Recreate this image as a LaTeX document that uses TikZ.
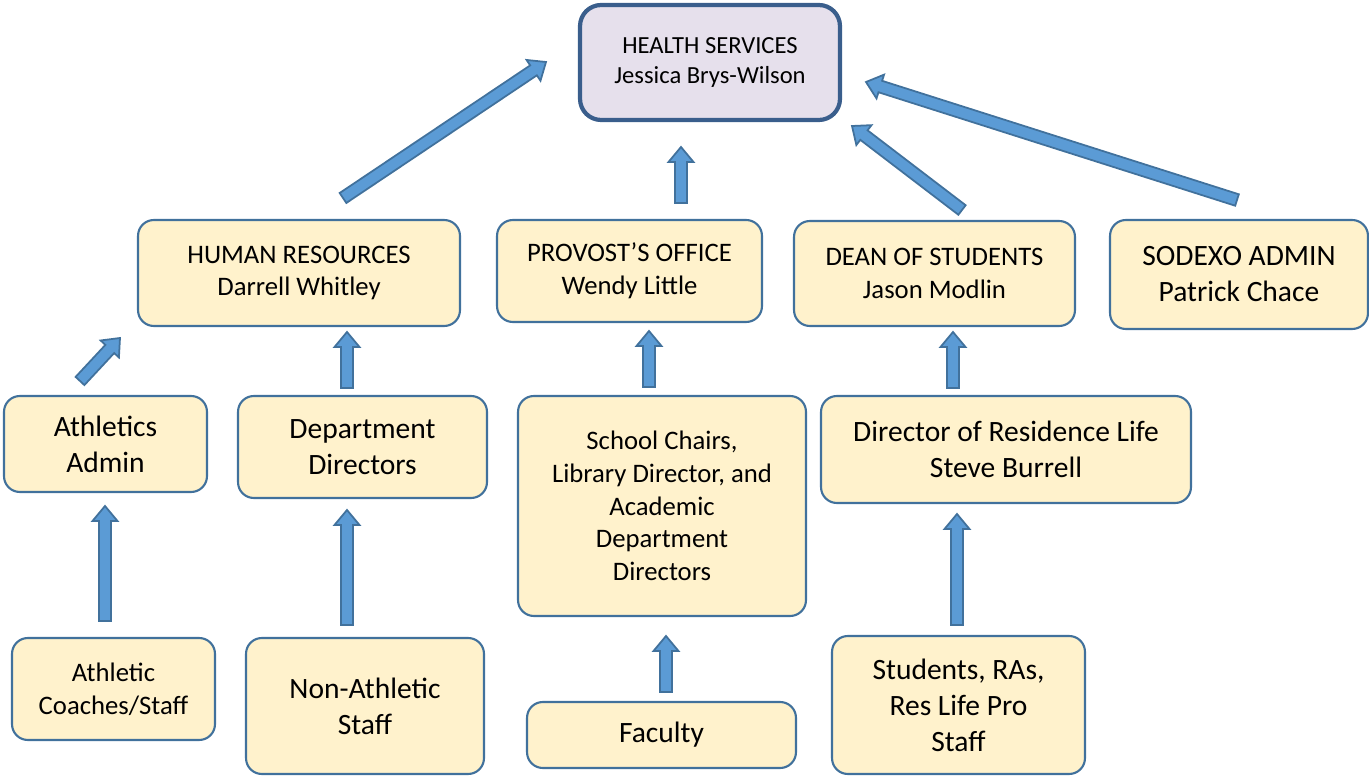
\documentclass[tikz,border=0pt]{standalone}
\usepackage{fontspec}
\setmainfont{Carlito}
\usetikzlibrary{calc}
\definecolor{boxfill}{HTML}{FFF2CC}
\definecolor{boxline}{HTML}{41719C}
\definecolor{topfill}{HTML}{E6E0EC}
\definecolor{topline}{HTML}{3A5E8C}
\definecolor{arrfill}{HTML}{5B9BD5}
\definecolor{arrline}{HTML}{41719C}
\newcommand\toptxt{\fontsize{14}{17.6}\selectfont}
\newcommand\smalltxt{\fontsize{15.2}{18.6}\selectfont}
\newcommand\bigtxt{\fontsize{16.8}{20.5}\selectfont}
% block arrow from #1 to #2
\newcommand\blockarrow[2]{%
  \coordinate (bah) at ($(#2)!0.3cm!(#1)$);
  \draw[barrow]
    ($(#1)!0.12cm!90:(#2)$) -- ($(bah)!0.12cm!90:(#2)$) --
    ($(bah)!0.25cm!90:(#2)$) -- (#2) --
    ($(bah)!0.25cm!-90:(#2)$) -- ($(bah)!0.12cm!-90:(#2)$) --
    ($(#1)!0.12cm!-90:(#2)$) -- cycle;}
\tikzset{
  box/.style={draw=boxline, fill=boxfill, line width=1.2pt, rounded corners=9pt,
    align=center, inner sep=0pt, font=\smalltxt},
  bigbox/.style={box, font=\bigtxt},
  topbox/.style={box, draw=topline, fill=topfill, line width=2.4pt, rounded corners=12pt,
    font=\toptxt},
  barrow/.style={fill=arrfill, draw=arrline, line width=1pt, line join=miter},
}
\begin{document}
\begin{tikzpicture}[x=0.02cm, y=-0.02cm]
\useasboundingbox (0,0) rectangle (1369,776);
% top
\node[topbox, minimum width=5.2cm, minimum height=2.3cm] (health) at (710,62.5)
  {HEALTH SERVICES\\Jessica Brys-Wilson};
% second row
\node[box, minimum width=6.44cm, minimum height=2.12cm] (hr) at (299,273)
  {HUMAN RESOURCES\\Darrell Whitley};
\node[box, minimum width=5.3cm, minimum height=2.04cm] (provost) at (629.5,271)
  {PROVOST’S OFFICE\\Wendy Little};
\node[box, minimum width=5.62cm, minimum height=2.1cm] (dean) at (934.5,273.5)
  {DEAN OF STUDENTS\\Jason Modlin};
\node[bigbox, minimum width=5.16cm, minimum height=2.18cm] (sodexo) at (1239,274.5)
  {SODEXO ADMIN\\Patrick Chace};
% third row
\node[bigbox, minimum width=4.06cm, minimum height=1.92cm] (athadmin) at (105.5,444)
  {Athletics\\Admin};
\node[bigbox, minimum width=4.98cm, minimum height=2.04cm] (deptdir) at (362.5,447)
  {Department\\Directors};
\node[box, minimum width=5.76cm, minimum height=4.4cm] (chairs) at (662,506)
  {School Chairs,\\Library Director, and\\Academic\\Department\\Directors};
\node[bigbox, minimum width=7.4cm, minimum height=2.14cm] (reslife) at (1006,449.5)
  {Director of Residence Life\\Steve Burrell};
% bottom row
\node[box, minimum width=4.06cm, minimum height=2.04cm] (coaches) at (113.5,689)
  {Athletic\\Coaches/Staff};
\node[bigbox, minimum width=4.76cm, minimum height=2.72cm] (nonath) at (365,706)
  {Non-Athletic\\Staff};
\node[bigbox, minimum width=5.38cm, minimum height=1.32cm] (faculty) at (661.5,735)
  {Faculty};
\node[bigbox, minimum width=5.06cm, minimum height=2.76cm] (students) at (958.5,705)
  {Students, RAs,\\Res Life Pro\\Staff};
% arrow end points
\coordinate (hrA) at (343,198);      \coordinate (hrB) at (546,62);
\coordinate (provA) at (681,203);    \coordinate (provB) at (681,147);
\coordinate (deanA) at (962,210);    \coordinate (deanB) at (852,126);
\coordinate (sodA) at (1237,200);    \coordinate (sodB) at (866,82);
\coordinate (athA) at (80,381);      \coordinate (athB) at (120,338);
\coordinate (deptA) at (347,388);    \coordinate (deptB) at (347,332);
\coordinate (chA) at (649,387);      \coordinate (chB) at (649,331);
\coordinate (resA) at (953,388);     \coordinate (resB) at (953,332);
\coordinate (coA) at (105,621);      \coordinate (coB) at (105,506);
\coordinate (naA) at (347,625);      \coordinate (naB) at (347,510);
\coordinate (faA) at (666,692);      \coordinate (faB) at (666,636);
\coordinate (stA) at (957,625);      \coordinate (stB) at (957,514);
\blockarrow{hrA}{hrB}
\blockarrow{provA}{provB}
\blockarrow{deanA}{deanB}
\blockarrow{sodA}{sodB}
\blockarrow{athA}{athB}
\blockarrow{deptA}{deptB}
\blockarrow{chA}{chB}
\blockarrow{resA}{resB}
\blockarrow{coA}{coB}
\blockarrow{naA}{naB}
\blockarrow{faA}{faB}
\blockarrow{stA}{stB}
\end{tikzpicture}
\end{document}
